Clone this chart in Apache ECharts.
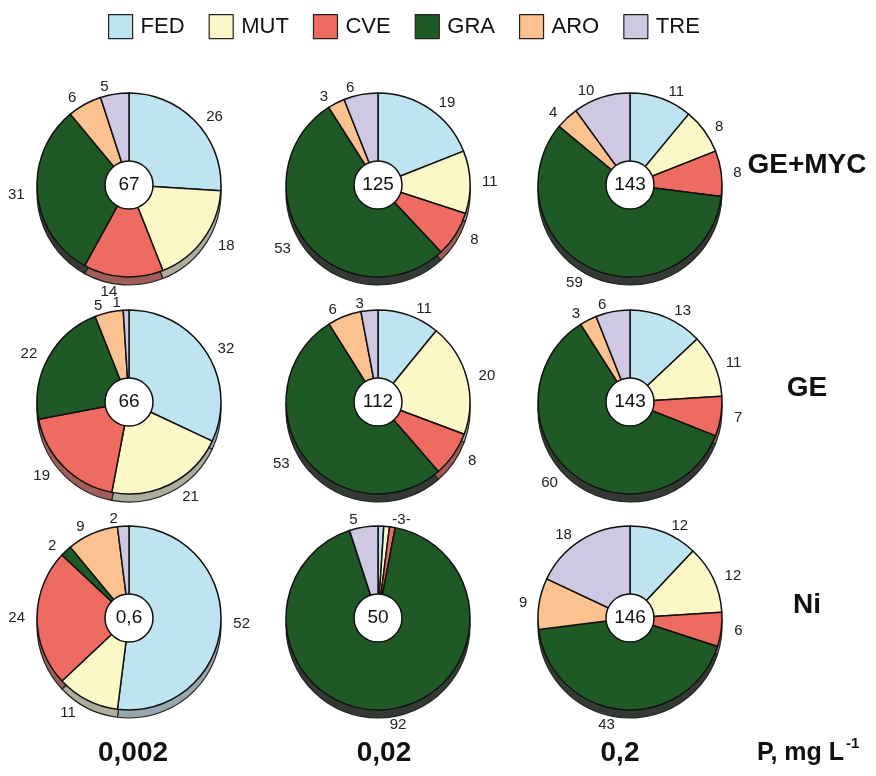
<!DOCTYPE html>
<html>
<head>
<meta charset="utf-8">
<script src="https://cdn.jsdelivr.net/npm/echarts@6/dist/echarts.min.js"></script>
<style>
  html, body { margin: 0; padding: 0; background: #fff; }
  #chart { width: 876px; height: 776px; }
</style>
</head>
<body>
<div id="chart"></div>
<script>
// Taxon groups shown in each pie (clockwise from 12 o'clock)
const categories = ['FED', 'MUT', 'CVE', 'GRA', 'ARO', 'TRE'];
const rowLabels = ['GE+MYC', 'GE', 'Ni'];
const colLabels = ['0,002', '0,02', '0,2'];

// Percent composition per treatment, one array per P level
const geMyc = [
  [26, 18, 14, 31, 6, 5],
  [19, 11, 8, 53, 3, 6],
  [11, 8, 8, 59, 4, 10]
];
const ge = [
  [32, 21, 19, 22, 5, 1],
  [11, 20, 8, 53, 6, 3],
  [13, 11, 7, 60, 3, 6]
];
const ni = [
  [52, 11, 24, 2, 9, 2],
  [1, 1, 1, 92, 0, 5],
  [12, 12, 6, 43, 9, 18]
];
// Totals written in the middle of each pie
const totals = [
  ['67', '125', '143'],
  ['66', '112', '143'],
  ['0,6', '50', '146']
];
// Ni at 0,02: FED+MUT+CVE share one combined label
const groupedRow = 2, groupedCol = 1, groupedSlices = [0, 1, 2];

const rows = [geMyc, ge, ni];

const palette = ['#bfe4f1', '#fcf7c6', '#ee6b62', '#1f5a26', '#fbc18e', '#cfc8e2'];
const edgePalette = ['#98a7ad', '#aeac9a', '#a15e59', '#333a33', '#b38f70', '#9e9aae'];

const centersX = [129, 378, 630];
const centersY = [185, 402, 618];
const rowLabelY = [165, 388, 605];
const colLabelX = [133, 384, 620];
const R = 92;
const RIM = 8;
const font = '"Liberation Sans", Arial, sans-serif';

// push labels of lower slices a bit further out so they clear the rim
function labelLength(vals, i) {
  const total = vals.reduce((s, v) => s + v, 0);
  let before = 0;
  for (let k = 0; k < i; k++) before += vals[k];
  const mid = (before + vals[i] / 2) / total * 2 * Math.PI;
  return 7 + 8 * Math.max(0, -Math.cos(mid));
}

const series = [];
rows.forEach((rowData, r) => {
  rowData.forEach((vals, c) => {
    const cx = centersX[c], cy = centersY[r];
    const grouped = (r === groupedRow && c === groupedCol);
    const groupSum = grouped ? groupedSlices.reduce((s, i) => s + vals[i], 0) : 0;
    // main pie
    series.push({
      type: 'pie',
      center: [cx, cy],
      radius: [0, R],
      startAngle: 90,
      clockwise: true,
      silent: true,
      animation: false,
      avoidLabelOverlap: false,
      labelLayout: { hideOverlap: false },
      z: 3,
      itemStyle: { borderColor: '#111', borderWidth: 1.5 },
      label: {
        position: 'outside', fontSize: 15, color: '#222', fontFamily: font
      },
      labelLine: { show: false, length: 7, length2: 0 },
      data: vals.map((v, i) => {
        let show = v > 0, fmt = String(v);
        if (grouped && groupedSlices.includes(i)) {
          show = (i === groupedSlices[1]);
          fmt = '-' + groupSum + '-';
        }
        return {
          name: categories[i], value: v,
          itemStyle: { color: palette[i] },
          label: { show: show, formatter: fmt },
          labelLine: { show: false, length: labelLength(vals, i), length2: 0 }
        };
      })
    });
    // lower rim giving the disc some thickness
    series.push({
      type: 'pie',
      center: [cx, cy + RIM],
      radius: [0, R],
      startAngle: 90,
      silent: true,
      animation: false,
      z: 1,
      itemStyle: { borderColor: '#222', borderWidth: 1.2 },
      label: { show: false },
      labelLine: { show: false },
      data: vals.map((v, i) => ({ value: v, itemStyle: { color: edgePalette[i] } }))
    });
    // white hub with the total
    series.push({
      type: 'pie',
      center: [cx, cy],
      radius: [0, 24],
      silent: true,
      animation: false,
      z: 5,
      labelLayout: { hideOverlap: false },
      itemStyle: { color: '#fff', borderColor: '#111', borderWidth: 1.5 },
      label: {
        position: 'center', formatter: '{b}', fontSize: 19, color: '#111', fontFamily: font
      },
      labelLine: { show: false },
      data: [{ value: 1, name: totals[r][c] }]
    });
  });
});

const graphics = [];
rowLabels.forEach((t, r) => {
  graphics.push({
    type: 'text', x: 807, y: rowLabelY[r],
    style: { text: t, fontSize: 28, fontWeight: 'bold', fontFamily: font, fill: '#111',
             textAlign: 'center', textVerticalAlign: 'middle' }
  });
});
colLabels.forEach((t, c) => {
  graphics.push({
    type: 'text', x: colLabelX[c], y: 753,
    style: { text: t, fontSize: 28, fontWeight: 'bold', fontFamily: font, fill: '#111',
             textAlign: 'center', textVerticalAlign: 'middle' }
  });
});
graphics.push({
  type: 'text', x: 757, y: 753,
  style: { text: 'P, mg L', fontSize: 25, fontWeight: 'bold', fontFamily: font, fill: '#111',
           textAlign: 'left', textVerticalAlign: 'middle' }
});
graphics.push({
  type: 'text', x: 846, y: 744,
  style: { text: '-1', fontSize: 15, fontWeight: 'bold', fontFamily: font, fill: '#111',
           textAlign: 'left', textVerticalAlign: 'middle' }
});

const chart = echarts.init(document.getElementById('chart'), null, { renderer: 'canvas' });
chart.setOption({
  backgroundColor: '#fff',
  animation: false,
  legend: {
    data: categories,
    left: 108, top: 14,
    padding: 0,
    icon: 'rect',
    itemWidth: 24, itemHeight: 24, itemGap: 24,
    selectedMode: false,
    itemStyle: { borderColor: '#222', borderWidth: 1.2 },
    textStyle: { fontSize: 22, color: '#111', fontFamily: font, padding: [0, 0, 0, 3] }
  },
  series: series,
  graphic: graphics
});
</script>
</body>
</html>
